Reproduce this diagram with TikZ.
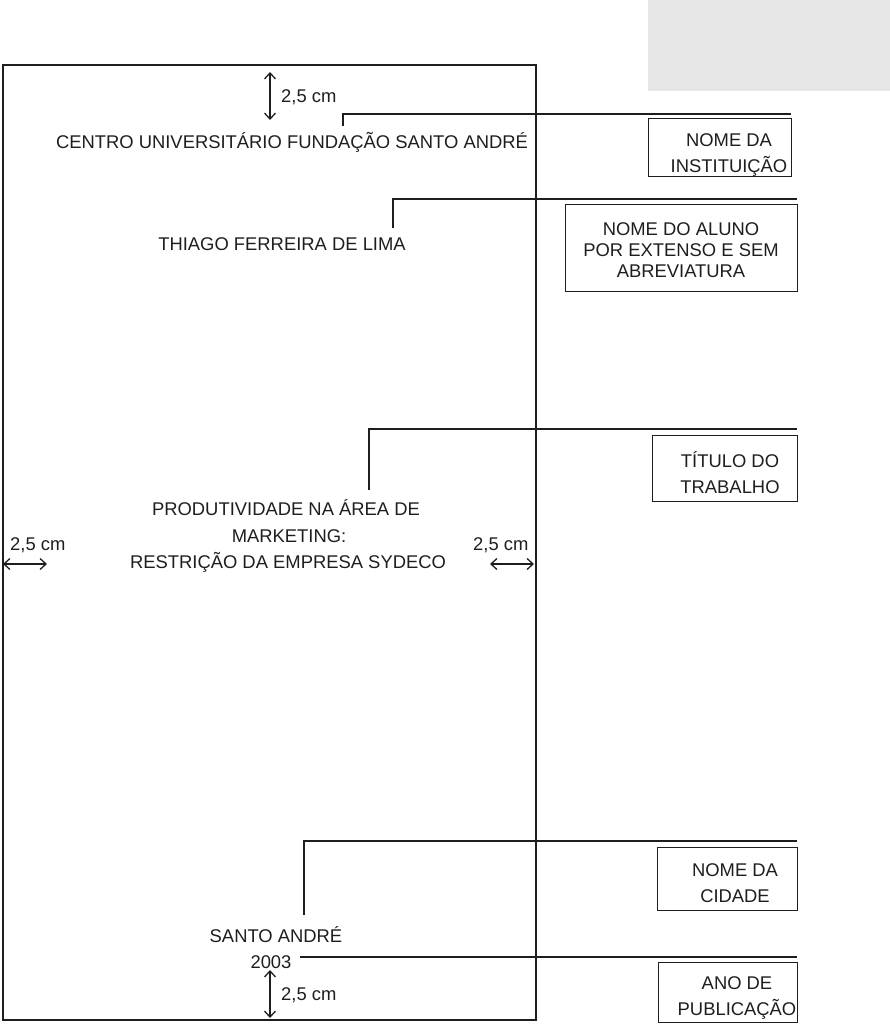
\documentclass[tikz,border=0pt]{standalone}
\usepackage{fontspec}
\setmainfont{Liberation Sans}
\usetikzlibrary{arrows.meta}
\definecolor{ink}{HTML}{1E1E1E}
\definecolor{lightgray}{HTML}{E6E6E6}
\tikzset{
  txt/.style={anchor=base, inner sep=0pt, text=ink, font=\fontsize{18.4}{26}\selectfont},
  boxtxt/.style={inner sep=0pt, text=ink, align=center, font=\fontsize{18.4}{26}\selectfont},
  infobox/.style={draw=ink, line width=1pt, inner sep=0pt},
  leader/.style={draw=ink, line width=2pt},
  page/.style={draw=ink, line width=2pt},
  dim/.style={draw=ink, line width=1.3pt, {Straight Barb[length=6pt,width=11pt]}-{Straight Barb[length=6pt,width=11pt]}}
}
\begin{document}
\begin{tikzpicture}[x=1pt,y=-1pt]
\useasboundingbox (0,0) rectangle (890,1024);
\fill[lightgray] (648,0) rectangle (890,91);
% page
\node[page, minimum width=533pt, minimum height=955pt, inner sep=0pt, anchor=north west] (pg) at (2,64) {};
% main texts
\node[txt] (inst) at (292,149) {CENTRO UNIVERSITÁRIO FUNDAÇÃO SANTO ANDRÉ};
\node[txt] (aluno) at (282,251) {THIAGO FERREIRA DE LIMA};
\node[txt] (tit1) at (286,515) {PRODUTIVIDADE NA ÁREA DE};
\node[txt] (tit2) at (289,542) {MARKETING:};
\node[txt] (tit3) at (288,568) {RESTRIÇÃO DA EMPRESA SYDECO};
\node[txt] (cid) at (276,942) {SANTO ANDRÉ};
\node[txt] (ano) at (271,968) {2003};
% dimension arrows
\coordinate (ta1) at (270,72); \coordinate (ta2) at (270,120);
\draw[dim] (ta1) -- (ta2);
\node[txt, anchor=base west] (tl) at (281,103) {2,5 cm};
\coordinate (la1) at (3,564); \coordinate (la2) at (47,564);
\draw[dim] (la1) -- (la2);
\node[txt, anchor=base west] (ll) at (10,550) {2,5 cm};
\coordinate (ra1) at (490,564); \coordinate (ra2) at (534,564);
\draw[dim] (ra1) -- (ra2);
\node[txt, anchor=base west] (rl) at (473,550) {2,5 cm};
\coordinate (ba1) at (270,970); \coordinate (ba2) at (270,1018);
\draw[dim] (ba1) -- (ba2);
\node[txt, anchor=base west] (bl) at (281,1000) {2,5 cm};
% info boxes
\node[infobox, minimum width=143pt, minimum height=58pt] (b1) at (719.5,148) {};
\node[boxtxt] (b1t) at (729,155) {NOME DA\\INSTITUIÇÃO};
\node[infobox, minimum width=232pt, minimum height=86pt] (b2) at (681,248) {};
\node[boxtxt, font=\fontsize{18.4}{21}\selectfont] (b2t) at (681,250) {NOME DO ALUNO\\POR EXTENSO E SEM\\ABREVIATURA};
\node[infobox, minimum width=145pt, minimum height=66pt] (b3) at (724.5,468) {};
\node[boxtxt] (b3t) at (730,473) {TÍTULO DO\\TRABALHO};
\node[infobox, minimum width=140pt, minimum height=63pt] (b4) at (727,878.5) {};
\node[boxtxt] (b4t) at (735,883) {NOME DA\\CIDADE};
\node[infobox, minimum width=139pt, minimum height=60pt] (b5) at (727.5,992) {};
\node[boxtxt] (b5t) at (737,998) {ANO DE\\PUBLICAÇÃO};
% leaders
\coordinate (l1s) at (343,126); \coordinate (l1e) at (791,114);
\draw[leader] (l1s) |- (l1e);
\coordinate (l2s) at (393,228); \coordinate (l2e) at (797,199);
\draw[leader] (l2s) |- (l2e);
\coordinate (l3s) at (369,490); \coordinate (l3e) at (797,429);
\draw[leader] (l3s) |- (l3e);
\coordinate (l4s) at (304,915); \coordinate (l4e) at (797,841);
\draw[leader] (l4s) |- (l4e);
\coordinate (l5s) at (300,957); \coordinate (l5e) at (797,957);
\draw[leader] (l5s) -- (l5e);
\end{tikzpicture}
\end{document}
